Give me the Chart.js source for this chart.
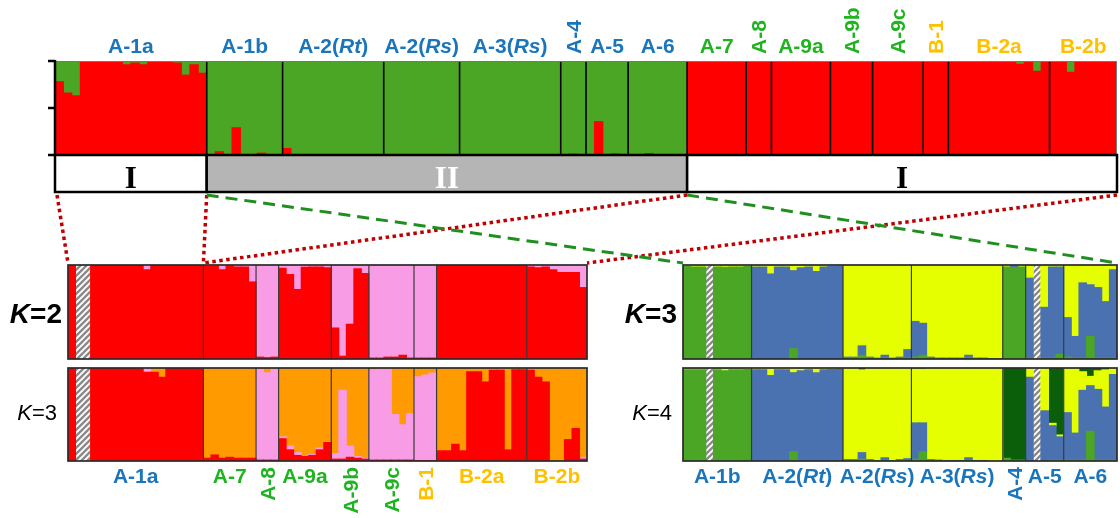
<!DOCTYPE html>
<html>
<head>
<meta charset="utf-8">
<script src="https://cdn.jsdelivr.net/npm/chart.js@4.4.1/dist/chart.umd.min.js"></script>
<style>
  body { margin: 0; background: #fff; width: 1120px; height: 518px; position: relative; overflow: hidden; }
  canvas { position: absolute; }
</style>
</head>
<body>
<canvas id="topChart" width="1120" height="200" style="left:0;top:0"></canvas>
<canvas id="leftK2" width="600" height="112" style="left:0;top:250px"></canvas>
<canvas id="leftK3" width="600" height="156" style="left:0;top:362px"></canvas>
<canvas id="rightK3" width="520" height="112" style="left:600px;top:250px"></canvas>
<canvas id="rightK4" width="520" height="156" style="left:600px;top:362px"></canvas>
<canvas id="links" width="1120" height="518" style="left:0;top:0;pointer-events:none"></canvas>
<script>
// ---- top panel, K=2 over all samples (green = rest) ----
const topPops = ['A-1a', 'A-1b', 'A-2(Rt)', 'A-2(Rs)', 'A-3(Rs)', 'A-4', 'A-5', 'A-6',
                 'A-7', 'A-8', 'A-9a', 'A-9b', 'A-9c', 'B-1', 'B-2a', 'B-2b'];
const topSizes = [18, 9, 12, 9, 12, 3, 5, 7, 7, 3, 7, 5, 6, 3, 12, 8];
const topRed = [
    0.78, 0.66, 0.63, 1, 1, 1, 0.995, 0.99, 0.96, 0.98, 0.96, 0.99, 0.99, 0.99, 0.98, 0.85, 0.96, 0.87, // A-1a
    0, 0.035, 0, 0.29, 0, 0, 0.02, 0, 0.005,               // A-1b
    0.07, 0.005, 0, 0, 0, 0, 0, 0, 0, 0, 0, 0,              // A-2(Rt)
    0, 0, 0, 0, 0.005, 0, 0, 0, 0,                          // A-2(Rs)
    0, 0, 0, 0, 0, 0, 0.005, 0, 0, 0.005, 0, 0,             // A-3(Rs)
    0, 0.01, 0,                                             // A-4
    0, 0.355, 0, 0.012, 0,                                  // A-5
    0, 0, 0.015, 0, 0, 0, 0,                                // A-6
    1, 1, 1, 1, 1, 1, 1,                                    // A-7
    1, 1, 1,                                                // A-8
    1, 1, 1, 1, 1, 1, 1,                                    // A-9a
    1, 1, 0.995, 1, 1,                                      // A-9b
    1, 1, 1, 0.995, 1, 1,                                   // A-9c
    0.995, 0.995, 1,                                        // B-1
    1, 1, 1, 1, 1, 1, 1, 0.995, 0.965, 1, 0.89, 1,          // B-2a
    1, 1, 0.88, 1, 1, 0.99, 1, 0.995                        // B-2b
];
const topClusters = ['I', 'II', 'I'];
const topClusterPops = [1, 7, 8];

// ---- cluster I re-run (K=2: red/pink, K=3: red/pink/orange) ----
const leftPops = ['A-1a', '/', 'A-1a', 'A-7', 'A-8', 'A-9a', 'A-9b', 'A-9c', 'B-1', 'B-2a', 'B-2b'];
const leftSizes = [1, 2, 15, 7, 3, 7, 5, 6, 3, 12, 8];
const leftK2Red = [
    1,
    1, 1, 1, 1, 0.995, 1, 1, 0.95, 1, 1, 0.995, 1, 1, 1, 1,
    0.99, 0.99, 0.95, 0.99, 0.98, 0.98, 0.82,
    0.02, 0.015, 0.02,
    0.965, 0.9, 0.74, 0.975, 0.98, 0.98, 0.97,
    0.33, 0.03, 0.37, 0.96, 0.91,
    0.01, 0.01, 0.02, 0.02, 0.04, 0.01,
    0.01, 0.01, 0.01,
    1, 1, 0.995, 1, 1, 1, 1, 1, 1, 1, 1, 1,
    0.98, 0.97, 0.98, 0.95, 0.92, 0.92, 0.92, 0.76
];
const leftK3Red = [
    1,
    1, 1, 1, 1, 1, 1, 1, 0.955, 0.955, 0.9, 1, 1, 1, 1, 1,
    0.03, 0.065, 0.03, 0.04, 0.03, 0.03, 0.03,
    0.01, 0.01, 0.01,
    0.24, 0.12, 0.06, 0.05, 0.06, 0.12, 0.2,
    0.02, 0.02, 0.04, 0.03, 0.02,
    0.01, 0.01, 0.01, 0.01, 0.01, 0.01,
    0.005, 0.005, 0.005,
    0.11, 0.11, 0.18, 0.11, 0.96, 0.96, 0.85, 0.975, 0.975, 0.12, 0.98, 0.98,
    0.975, 0.9, 0.85, 0, 0, 0.23, 0.35, 0.02
];
const leftK3Pink = [
    0,
    0, 0, 0, 0, 0, 0, 0, 0.045, 0, 0, 0, 0, 0, 0, 0,
    0, 0, 0, 0, 0, 0, 0,
    0.98, 0.94, 0.98,
    0.02, 0.04, 0.03, 0.01, 0.01, 0.02, 0.01,
    0.06, 0.74, 0.12, 0.02, 0.01,
    0.97, 0.98, 0.98, 0.49, 0.38, 0.5,
    0.9, 0.92, 0.94,
    0, 0, 0, 0, 0, 0, 0, 0, 0, 0, 0, 0,
    0, 0, 0, 0, 0, 0, 0, 0.02
];

// ---- cluster II re-run (K=3: green/blue/yellow, K=4: + dark green) ----
const rightPops = ['A-1b', '/', 'A-1b', 'A-2(Rt)', 'A-2(Rs)', 'A-3(Rs)', 'A-4', 'A-5', '/', 'A-5', 'A-6'];
const rightSizes = [3, 1, 5, 12, 9, 12, 3, 1, 1, 3, 7];
const rightK3Green = [
    0.985, 0.98, 0.98,
    0.98, 0.975, 0.98, 0.98, 0.985,
    0, 0, 0, 0, 0, 0.11, 0, 0, 0, 0, 0, 0,
    0.01, 0.01, 0.04, 0.01, 0.01, 0.01, 0.01, 0.01, 0.01,
    0.02, 0.04, 0.01, 0.005, 0.005, 0.005, 0.005, 0.01, 0.005, 0.005, 0.005, 0.005,
    0.98, 0.97, 0.98,
    0.01,
    0.01, 0.01, 0.05,
    0.02, 0.01, 0.01, 0.24, 0.01, 0.01, 0.01
];
const rightK3Blue = [
    0, 0, 0,
    0, 0, 0, 0, 0,
    0.98, 0.98, 0.905, 0.98, 0.98, 0.83, 0.97, 0.98, 0.93, 0.98, 0.985, 0.99,
    0.01, 0.01, 0.1, 0.01, 0, 0.03, 0, 0.01, 0.09,
    0.38, 0.34, 0.01, 0.005, 0.005, 0.005, 0.005, 0.03, 0.005, 0.005, 0, 0,
    0, 0.02, 0,
    0.85,
    0.54, 0.97, 0.93,
    0.42, 0.23, 0.8, 0.55, 0.75, 0.6, 0.94
];
const rightK4Green = [
    0.98, 0.98, 0.98,
    0.98, 0.97, 0.98, 0.98, 0.985,
    0, 0, 0, 0, 0, 0.1, 0, 0, 0, 0, 0, 0,
    0.005, 0.005, 0.02, 0.005, 0.005, 0.005, 0.005, 0.005, 0.005,
    0.02, 0.1, 0.005, 0.005, 0, 0, 0, 0.005, 0, 0, 0, 0,
    0.03, 0.01, 0.01,
    0,
    0, 0.01, 0.01,
    0.01, 0.01, 0.01, 0.32, 0.01, 0.01, 0.01
];
const rightK4Blue = [
    0, 0, 0,
    0, 0, 0, 0, 0,
    0.98, 0.98, 0.92, 0.98, 0.98, 0.85, 0.97, 0.98, 0.95, 0.98, 0.985, 0.99,
    0.01, 0.01, 0.07, 0.01, 0, 0.03, 0, 0.01, 0.02,
    0.39, 0.31, 0.01, 0.005, 0.005, 0.005, 0.005, 0.03, 0.005, 0.005, 0, 0,
    0, 0, 0,
    0.9,
    0.54, 0.37, 0.25,
    0.51, 0.29, 0.75, 0.49, 0.76, 0.57, 0.92
];
const rightK4Yellow = [
    0.01, 0.01, 0.01,
    0.01, 0.02, 0.01, 0.01, 0.01,
    0.015, 0.015, 0.075, 0.015, 0.015, 0.045, 0.025, 0.015, 0.045, 0.015, 0.01, 0.005,
    0.98, 0.98, 0.89, 0.98, 0.99, 0.96, 0.99, 0.98, 0.97,
    0.58, 0.58, 0.98, 0.985, 0.99, 0.995, 0.995, 0.96, 0.995, 0.995, 1, 1,
    0, 0, 0,
    0.1,
    0.46, 0.025, 0.02,
    0.48, 0.7, 0.2, 0.1, 0.2, 0.4, 0.07
];

const verticalNames = ['A-4', 'A-8', 'A-9b', 'A-9c', 'B-1'];
const greenNames = ['A-7', 'A-8', 'A-9a', 'A-9b', 'A-9c'];

const RED = '#ff0000', GREEN = '#4ca626', PINK = '#f99ce6', ORANGE = '#ff9a00',
      BLUE = '#4a72b0', YELLOW = '#e5ff00', DKGREEN = '#0b5f0b';
const SANS = '"Liberation Sans", Arial, sans-serif';
const LABEL_SIZE = 21;

function nameColor(n) {
    if (n[0] === 'B') return '#ffc000';
    if (greenNames.includes(n)) return '#1fb31f';
    return '#1b75bb';
}

function makeHatch() {
    const c = document.createElement('canvas');
    c.width = 6; c.height = 6;
    const g = c.getContext('2d');
    g.fillStyle = '#fff';
    g.fillRect(0, 0, 6, 6);
    g.strokeStyle = '#8a8a8a';
    g.lineWidth = 2.4;
    g.beginPath();
    g.moveTo(-1, 7); g.lineTo(7, -1);
    g.moveTo(-1, 1); g.lineTo(1, -1);
    g.moveTo(5, 7); g.lineTo(7, 5);
    g.stroke();
    return g.createPattern(c, 'repeat');
}
const hatchPattern = makeHatch();

// rich text: parts = [[text, italic], ...]
function drawRich(ctx, parts, x, y, align, size, bold, color) {
    const font = it => (it ? 'italic ' : '') + (bold ? 'bold ' : '') + size + 'px ' + SANS;
    let w = 0;
    parts.forEach(p => { ctx.font = font(p[1]); w += ctx.measureText(p[0]).width; });
    let cx = align === 'left' ? x : align === 'center' ? x - w / 2 : x - w;
    ctx.fillStyle = color;
    ctx.textAlign = 'left';
    ctx.textBaseline = 'alphabetic';
    parts.forEach(p => {
        ctx.font = font(p[1]);
        ctx.fillText(p[0], cx, y);
        cx += ctx.measureText(p[0]).width;
    });
}

function nameParts(n) {
    return n.split(/(Rt|Rs)/).filter(s => s).map(s => [s, s === 'Rt' || s === 'Rs']);
}

function groupStarts(sizes) {
    const starts = [];
    let s = 0;
    sizes.forEach(n => { starts.push(s); s += n; });
    starts.push(s);
    return starts;
}

// empty shares become null so that no sliver is drawn for them
function share(v) {
    return v > 0 ? v : null;
}

function panelData(pops, sizes, given, nColors) {
    const labels = [], hatch = [];
    const sets = [];
    for (let c = 0; c < nColors; c++) sets.push([]);
    let k = 0;
    pops.forEach((p, g) => {
        for (let j = 0; j < sizes[g]; j++) {
            labels.push(p + ' #' + (j + 1) + '.' + g);
            if (p === '/') {
                sets.forEach(s => s.push(null));
                hatch.push(1);
                continue;
            }
            let rest = 1;
            given.forEach((arr, c) => { sets[c].push(share(arr[k])); rest -= arr[k]; });
            sets[given.length].push(share(rest > 0.0005 ? rest : 0));
            hatch.push(null);
            k++;
        }
    });
    return { labels, sets, hatch };
}

function drawDecor(chart, pops, sizes, d) {
    const { ctx, chartArea: a, scales: { x, y } } = chart;
    const edge = i => x.getPixelForValue(i - 0.5);
    const starts = groupStarts(sizes);
    ctx.save();

    // population separators
    ctx.strokeStyle = d.sepColor;
    ctx.lineWidth = d.sepWidth;
    for (let g = 1; g < pops.length; g++) {
        if (pops[g] === '/' || pops[g - 1] === '/') continue;
        const px = edge(starts[g]);
        ctx.beginPath();
        ctx.moveTo(px, a.top);
        ctx.lineTo(px, a.bottom);
        ctx.stroke();
    }

    if (d.isTop) {
        ctx.strokeStyle = '#777';
        ctx.lineWidth = 1;
        ctx.beginPath();
        ctx.moveTo(a.left, a.top + 0.5); ctx.lineTo(a.right, a.top + 0.5);
        ctx.moveTo(a.right - 0.5, a.top); ctx.lineTo(a.right - 0.5, a.bottom);
        ctx.stroke();
        // left axis + ticks at 0, 0.5, 1
        ctx.strokeStyle = '#000';
        ctx.lineWidth = 2.5;
        ctx.beginPath();
        ctx.moveTo(a.left, a.top - 1); ctx.lineTo(a.left, a.bottom);
        [0, 0.5, 1].forEach(v => {
            const py = y.getPixelForValue(v);
            ctx.moveTo(a.left - 7, py); ctx.lineTo(a.left, py);
        });
        ctx.stroke();
        // cluster bar I / II / I
        const gh = 37;
        let p = 0;
        topClusters.forEach((name, k) => {
            const x0 = edge(starts[p]);
            p += topClusterPops[k];
            const x1 = edge(starts[p]);
            ctx.fillStyle = name === 'II' ? '#b5b5b5' : '#fff';
            ctx.fillRect(x0, a.bottom, x1 - x0, gh);
            ctx.strokeStyle = '#000';
            ctx.lineWidth = 2.5;
            ctx.strokeRect(x0, a.bottom, x1 - x0, gh);
            ctx.fillStyle = name === 'II' ? '#fff' : '#000';
            ctx.font = 'bold 31px "Liberation Serif", "Times New Roman", serif';
            ctx.textAlign = 'center';
            ctx.textBaseline = 'alphabetic';
            ctx.fillText(name, (x0 + x1) / 2, a.bottom + 33);
        });
    } else {
        ctx.strokeStyle = '#2a2a2a';
        ctx.lineWidth = 1.7;
        ctx.strokeRect(a.left, a.top, a.right - a.left, a.bottom - a.top);
    }

    // population names
    if (d.names) {
        const names = [];
        pops.forEach(p => { if (p !== '/' && !names.includes(p)) names.push(p); });
        names.forEach(n => {
            const g0 = pops.indexOf(n), g1 = pops.lastIndexOf(n);
            const cx = (edge(starts[g0]) + edge(starts[g1 + 1])) / 2;
            const col = nameColor(n);
            if (verticalNames.includes(n)) {
                ctx.save();
                if (d.names === 'top') {
                    ctx.translate(cx, a.top - 7);
                    ctx.rotate(-Math.PI / 2);
                    drawRich(ctx, nameParts(n), 0, 7.5, 'left', LABEL_SIZE, true, col);
                } else {
                    ctx.translate(cx, a.bottom + 6);
                    ctx.rotate(-Math.PI / 2);
                    drawRich(ctx, nameParts(n), 0, 7.5, 'right', LABEL_SIZE, true, col);
                }
                ctx.restore();
            } else {
                const by = d.names === 'top' ? a.top - 8 : a.bottom + 22;
                drawRich(ctx, nameParts(n), cx, by, 'center', LABEL_SIZE, true, col);
            }
        });
    }

    // K label
    if (d.k) {
        const kb = d.k.bold;
        drawRich(ctx, [['K', true], ['=' + d.k.value, false]],
                 a.left - (kb ? 6 : 11), a.top + (kb ? 58 : 52), 'right', kb ? 28 : 22, kb, '#000');
    }
    ctx.restore();
}

function makeChart(canvasId, pops, sizes, given, colors, decor) {
    const built = panelData(pops, sizes, given, colors.length);
    const datasets = colors.map((c, i) => ({
        label: 'cluster ' + (i + 1),
        data: built.sets[i],
        backgroundColor: c,
        borderWidth: 0,
        barPercentage: 1,
        categoryPercentage: 1,
        inflateAmount: 0.5
    }));
    datasets.push({
        label: 'not shown',
        data: built.hatch,
        backgroundColor: hatchPattern,
        borderWidth: 0,
        barPercentage: 1,
        categoryPercentage: 1,
        inflateAmount: 0
    });
    return new Chart(document.getElementById(canvasId), {
        type: 'bar',
        data: { labels: built.labels, datasets: datasets },
        options: {
            responsive: false,
            animation: false,
            devicePixelRatio: 1,
            layout: { padding: decor.pad },
            plugins: { legend: { display: false }, tooltip: { enabled: false } },
            scales: {
                x: { stacked: true, display: false },
                y: { stacked: true, display: false, min: 0, max: 1 }
            }
        },
        plugins: [{
            id: 'decor',
            afterDatasetsDraw(chart) { drawDecor(chart, pops, sizes, decor); }
        }]
    });
}

const topChart = makeChart('topChart', topPops, topSizes, [topRed], [RED, GREEN], {
    pad: { left: 55, right: 3, top: 61, bottom: 45 },
    sepColor: '#000', sepWidth: 1.6, isTop: true, names: 'top'
});
const leftK2 = makeChart('leftK2', leftPops, leftSizes, [leftK2Red], [RED, PINK], {
    pad: { left: 68, right: 13, top: 15, bottom: 3 },
    sepColor: '#3a3a3a', sepWidth: 1.2, k: { value: 2, bold: true }
});
const leftK3 = makeChart('leftK3', leftPops, leftSizes, [leftK3Red, leftK3Pink], [RED, PINK, ORANGE], {
    pad: { left: 68, right: 13, top: 6, bottom: 57 },
    sepColor: '#3a3a3a', sepWidth: 1.2, names: 'bottom', k: { value: 3, bold: false }
});
const rightK3 = makeChart('rightK3', rightPops, rightSizes, [rightK3Green, rightK3Blue], [GREEN, BLUE, YELLOW], {
    pad: { left: 83, right: 3, top: 15, bottom: 3 },
    sepColor: '#3a3a3a', sepWidth: 1.2, k: { value: 3, bold: true }
});
const rightK4 = makeChart('rightK4', rightPops, rightSizes, [rightK4Green, rightK4Blue, rightK4Yellow],
                          [GREEN, BLUE, YELLOW, DKGREEN], {
    pad: { left: 83, right: 3, top: 6, bottom: 57 },
    sepColor: '#3a3a3a', sepWidth: 1.2, names: 'bottom', k: { value: 4, bold: false }
});

// zoom connectors from the top cluster bar to the two sub-analyses
function pageX(chart, cat) {
    return chart.canvas.offsetLeft + chart.scales.x.getPixelForValue(cat - 0.5);
}
const topStarts = groupStarts(topSizes);
const tA = topStarts[0];
const tB = topStarts[topClusterPops[0]];
const tC = topStarts[topClusterPops[0] + topClusterPops[1]];
const tD = topStarts[topPops.length];
const leftStarts = groupStarts(leftSizes);
const lA = leftStarts[0], lB = leftStarts[leftPops.indexOf('A-7')], lC = leftStarts[leftPops.length];
const rightStarts = groupStarts(rightSizes);
const rA = rightStarts[0], rB = rightStarts[rightPops.length];

const yFrom = topChart.canvas.offsetTop + topChart.chartArea.bottom + 40;
const yTo = leftK2.canvas.offsetTop + leftK2.chartArea.top - 2;

const lk = document.getElementById('links').getContext('2d');
function link(x0, x1, color, dash, width) {
    lk.strokeStyle = color;
    lk.lineWidth = width;
    lk.setLineDash(dash);
    lk.beginPath();
    lk.moveTo(x0, yFrom);
    lk.lineTo(x1, yTo);
    lk.stroke();
}
link(pageX(topChart, tA) + 2, pageX(leftK2, lA), '#c00000', [3.5, 3.5], 3.5);
link(pageX(topChart, tB), pageX(leftK2, lB), '#c00000', [3.5, 3.5], 3.5);
link(pageX(topChart, tC), pageX(leftK2, lB), '#c00000', [3.5, 3.5], 3.5);
link(pageX(topChart, tD), pageX(leftK2, lC), '#c00000', [3.5, 3.5], 3.5);
link(pageX(topChart, tB), pageX(rightK3, rA), '#1f8f1f', [12, 7], 3);
link(pageX(topChart, tC), pageX(rightK3, rB), '#1f8f1f', [12, 7], 3);
</script>
</body>
</html>
